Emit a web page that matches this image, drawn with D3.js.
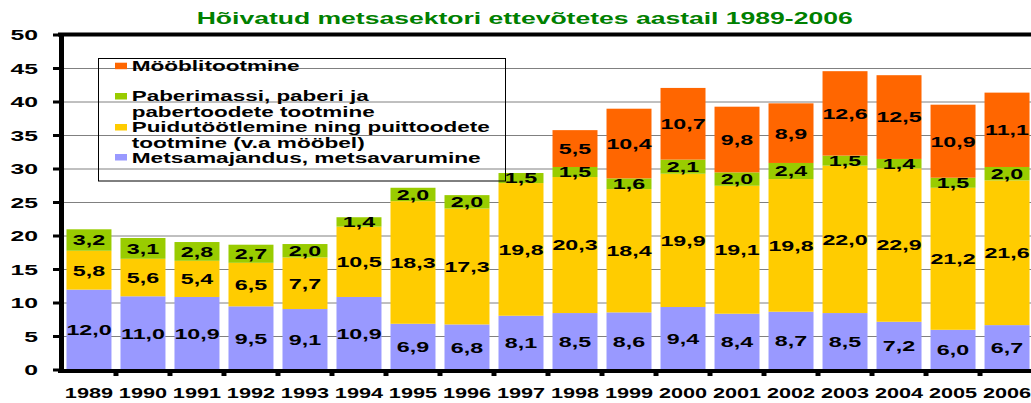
<!DOCTYPE html>
<html><head><meta charset="utf-8">
<script src="https://cdn.jsdelivr.net/npm/d3@7"></script>
<style>body{margin:0;background:#fff}svg{display:block}text{font-family:"Liberation Sans",Arial,sans-serif}</style>
</head><body><svg id="c" width="1031" height="403"></svg>
<script>
const years = ["1989","1990","1991","1992","1993","1994","1995","1996","1997","1998","1999","2000","2001","2002","2003","2004","2005","2006"];
const metsamajandus = [12.0,11.0,10.9,9.5,9.1,10.9,6.9,6.8,8.1,8.5,8.6,9.4,8.4,8.7,8.5,7.2,6.0,6.7];
const puidutootlemine = [5.8,5.6,5.4,6.5,7.7,10.5,18.3,17.3,19.8,20.3,18.4,19.9,19.1,19.8,22.0,22.9,21.2,21.6];
const paberimassi = [3.2,3.1,2.8,2.7,2.0,1.4,2.0,2.0,1.5,1.5,1.6,2.1,2.0,2.4,1.5,1.4,1.5,2.0];
const mooblitootmine = [0,0,0,0,0,0,0,0,0,5.5,10.4,10.7,9.8,8.9,12.6,12.5,10.9,11.1];
const yTicks = [0,5,10,15,20,25,30,35,40,45,50];
const title = "Hõivatud metsasektori ettevõtetes aastail 1989-2006";
const legendLines = [
  {key:"moob", lines:["Mööblitootmine"]},
  {key:"paber", lines:["Paberimassi, paberi ja","pabertoodete tootmine"]},
  {key:"puit", lines:["Puidutöötlemine ning puittoodete","tootmine (v.a mööbel)"]},
  {key:"mets", lines:["Metsamajandus, metsavarumine"]}
];
const colors = {mets:"#9999FF", puit:"#FFCC00", paber:"#99CC00", moob:"#FF6600"};

const rows = years.map((y,i)=>({year:y, mets:metsamajandus[i], puit:puidutootlemine[i], paber:paberimassi[i], moob:mooblitootmine[i]}));
const keys = ["mets","puit","paber","moob"];
const series = d3.stack().keys(keys)(rows);

const svg = d3.select("#c");
const L=62, R=1034, T=35, B=370;
const x = d3.scaleBand().domain(years).range([L,R]).paddingInner(0.167).paddingOuter(0.083);
const y = d3.scaleLinear().domain([0,50]).range([B,T]);
const fmt = v => d3.format(".1f")(v).replace(".",",");

// gridlines
svg.append("g").selectAll("line").data(yTicks.filter(t=>t>0&&t<50)).join("line")
  .attr("x1",L).attr("x2",R).attr("y1",d=>y(d)).attr("y2",d=>y(d))
  .attr("stroke","#808080").attr("stroke-width",1);

// bars
const g = svg.append("g");
series.forEach(s=>{
  g.append("g").attr("fill",colors[s.key]).selectAll("rect").data(s).join("rect")
    .attr("x",d=>x(d.data.year)).attr("width",x.bandwidth())
    .attr("y",d=>y(d[1])).attr("height",d=>y(d[0])-y(d[1]));
});
// labels
series.forEach(s=>{
  g.append("g").selectAll("text").data(s.filter(d=>d[1]-d[0]>0)).join("text")
    .attr("transform",d=>`translate(${x(d.data.year)+x.bandwidth()/2},${(y(d[0])+y(d[1]))/2+5.4}) scale(1.55,1)`)
    .attr("text-anchor","middle").attr("font-size",15).attr("font-weight","bold").attr("fill","#000")
    .text(d=>fmt(d[1]-d[0]));
});

// frame / axes
svg.append("line").attr("x1",58).attr("x2",R).attr("y1",34.5).attr("y2",34.5).attr("stroke","#000").attr("stroke-width",4);
svg.append("line").attr("x1",58).attr("x2",R).attr("y1",371).attr("y2",371).attr("stroke","#000").attr("stroke-width",4);
svg.append("line").attr("x1",61.5).attr("x2",61.5).attr("y1",33).attr("y2",373).attr("stroke","#000").attr("stroke-width",5);
// y ticks
svg.append("g").selectAll("line").data(yTicks).join("line")
  .attr("x1",53).attr("x2",62).attr("y1",d=>y(d)).attr("y2",d=>y(d)).attr("stroke","#000").attr("stroke-width",3);
svg.append("g").selectAll("text").data(yTicks).join("text")
  .attr("transform",d=>`translate(38,${y(d)+5.4}) scale(1.65,1)`)
  .attr("text-anchor","end").attr("font-size",15).attr("font-weight","bold").attr("fill","#000")
  .text(d=>d);
// x ticks at category boundaries
const step = x.step();
svg.append("g").selectAll("line").data(years.slice(1)).join("line")
  .attr("x1",d=>x(d)-step*x.paddingInner()/2).attr("x2",d=>x(d)-step*x.paddingInner()/2)
  .attr("y1",370).attr("y2",376).attr("stroke","#000").attr("stroke-width",5);
svg.append("g").selectAll("text").data(years).join("text")
  .attr("transform",d=>`translate(${x(d)+x.bandwidth()/2},398) scale(1.55,1)`)
  .attr("text-anchor","middle").attr("font-size",14).attr("font-weight","bold").attr("fill","#000")
  .text(d=>d);

// title
svg.append("text").attr("x",196.7).attr("y",23.5).attr("font-size",16).attr("font-weight","bold")
  .attr("fill","#008000").attr("textLength",656).attr("lengthAdjust","spacingAndGlyphs").text(title);

// legend
svg.append("rect").attr("x",98.5).attr("y",58.5).attr("width",407).attr("height",122.5)
  .attr("fill","none").attr("stroke","#000").attr("stroke-width",1);
const legendY = {moob:[70.5], paber:[100.5,116.5], puit:[131.7,147.5], mets:[163]};
const legendW = {"Mööblitootmine":168,"Paberimassi, paberi ja":237,"pabertoodete tootmine":243,"Puidutöötlemine ning puittoodete":358,"tootmine (v.a mööbel)":233,"Metsamajandus, metsavarumine":349};
const markY = {moob:62.7, paber:93, puit:124, mets:154};
legendLines.forEach(it=>{
  svg.append("rect").attr("x",115).attr("y",markY[it.key]).attr("width",12).attr("height",6.5).attr("fill",colors[it.key]);
  it.lines.forEach((t,j)=>{
    svg.append("text").attr("x",131.7).attr("y",legendY[it.key][j]).attr("font-size",14).attr("font-weight","bold")
      .attr("fill","#000").attr("textLength",legendW[t]).attr("lengthAdjust","spacingAndGlyphs").text(t);
  });
});
</script></body></html>
